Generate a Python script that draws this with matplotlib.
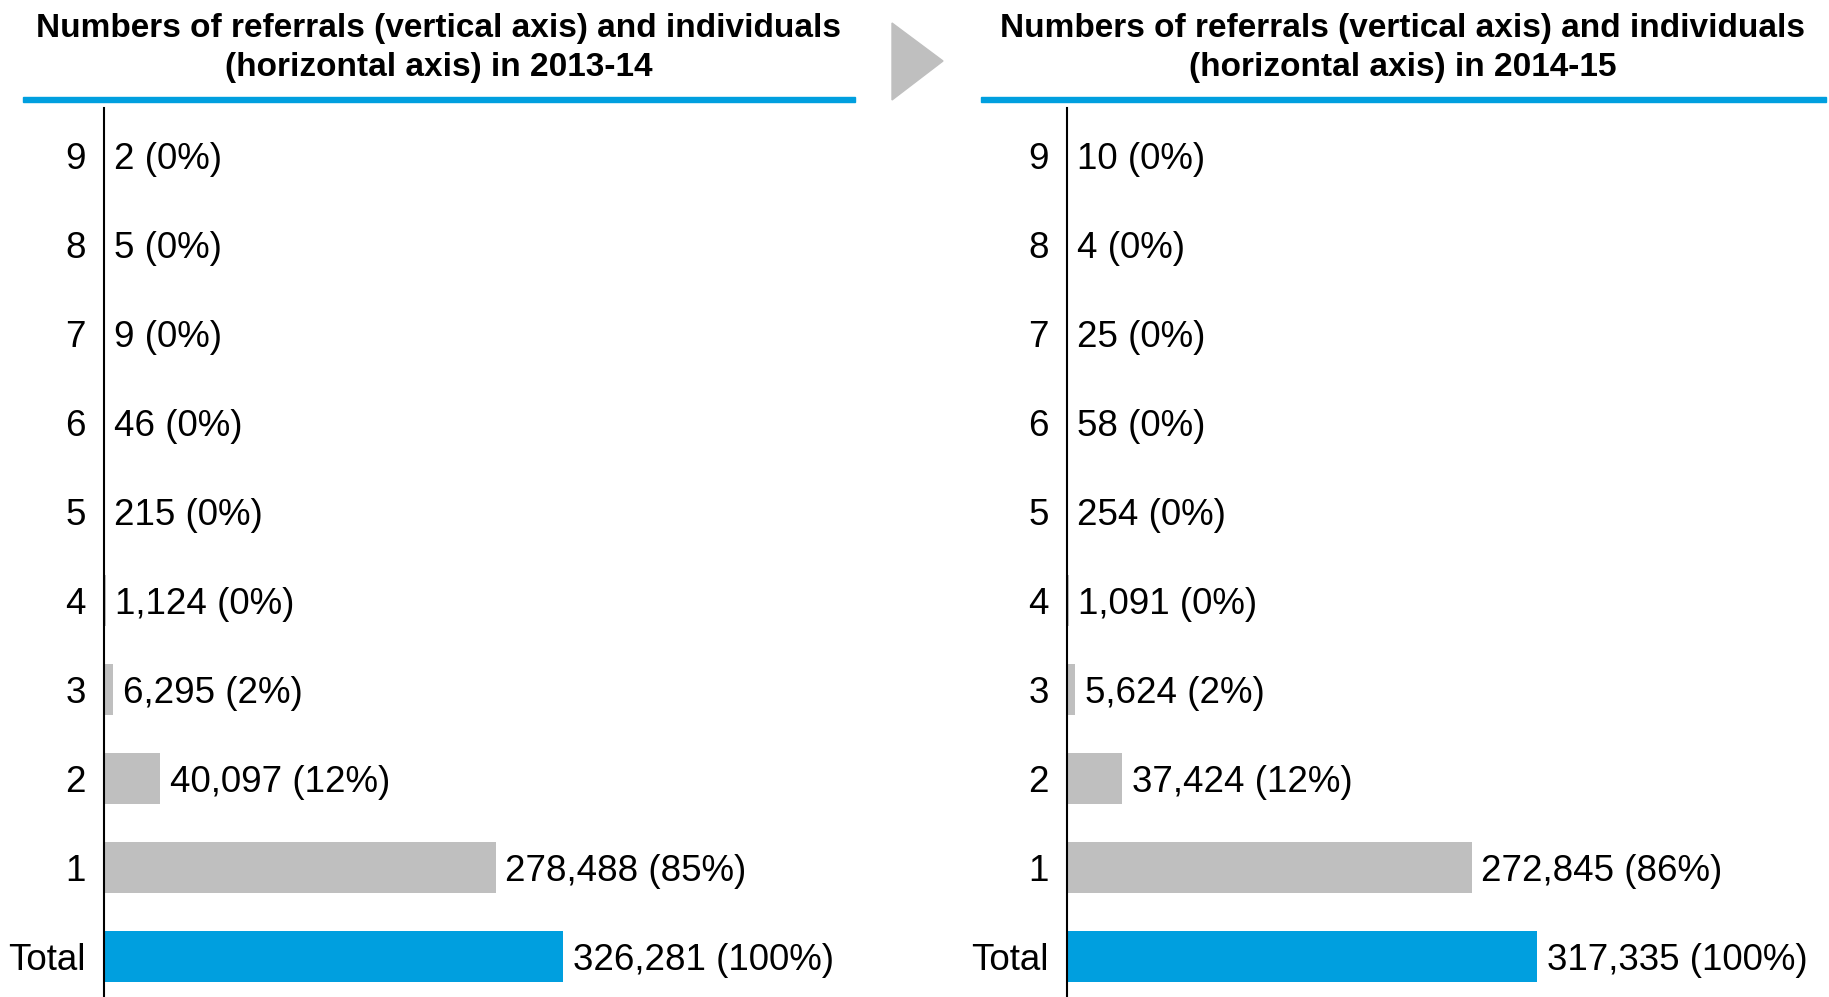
import matplotlib.pyplot as plt
from matplotlib.patches import Polygon, Rectangle

categories = ["Total", "1", "2", "3", "4", "5", "6", "7", "8", "9"]
counts_1314 = [326281, 278488, 40097, 6295, 1124, 215, 46, 9, 5, 2]
pct_1314 = [100, 85, 12, 2, 0, 0, 0, 0, 0, 0]
counts_1415 = [317335, 272845, 37424, 5624, 1091, 254, 58, 25, 4, 10]
pct_1415 = [100, 86, 12, 2, 0, 0, 0, 0, 0, 0]
titles = ["Numbers of referrals (vertical axis) and individuals\n(horizontal axis) in 2013-14",
          "Numbers of referrals (vertical axis) and individuals\n(horizontal axis) in 2014-15"]

BLUE = "#009FDF"
GREY = "#BFBFBF"
W, H = 1829, 997

plt.rcParams["font.family"] = ["Liberation Sans", "DejaVu Sans"]

fig = plt.figure(figsize=(W / 100, H / 100), dpi=100)


def fx(px):
    return px / W


def fy(py):
    return 1 - py / H


def panel(left_px, right_px, xmax, counts, pcts, title, title_x, rule):
    ax = fig.add_axes([fx(left_px), 0, fx(right_px - left_px), (H - 108) / H])
    y = list(range(len(categories)))
    colors = [BLUE] + [GREY] * (len(categories) - 1)
    ax.barh(y, counts, height=0.57, color=colors)
    for yi, c, p in zip(y, counts, pcts):
        ax.annotate(f"{c:,} ({p}%)", (c, yi), xytext=(7, 0), textcoords="offset points",
                    va="center_baseline", ha="left", fontsize=26.5)
    ax.set_yticks(y)
    ax.set_yticklabels(categories, fontsize=26.5, va="center_baseline")
    ax.tick_params(axis="y", length=0, pad=13)
    ax.set_xticks([])
    ax.set_xlim(0, xmax)
    ax.set_ylim(-0.455, 9.528)
    for s in ["top", "right", "bottom"]:
        ax.spines[s].set_visible(False)
    ax.spines["left"].set_linewidth(1.5)
    fig.text(fx(title_x), fy(48), title, ha="center", va="center", fontsize=24,
             fontweight="bold", linespacing=1.35)
    fig.add_artist(Rectangle((fx(rule[0]), fy(102)), fx(rule[1] - rule[0]), 5 / H,
                             color=BLUE, transform=fig.transFigure))
    return ax


panel(104, 855, 533850, counts_1314, pct_1314, titles[0], 439, (23, 855))
panel(1067, 1826, 511920, counts_1415, pct_1415, titles[1], 1403, (981, 1826))

fig.add_artist(Polygon([(fx(892), fy(23)), (fx(892), fy(100)), (fx(943), fy(61))],
                       closed=True, color=GREY, transform=fig.transFigure))

fig.savefig("out.png", dpi=100)
